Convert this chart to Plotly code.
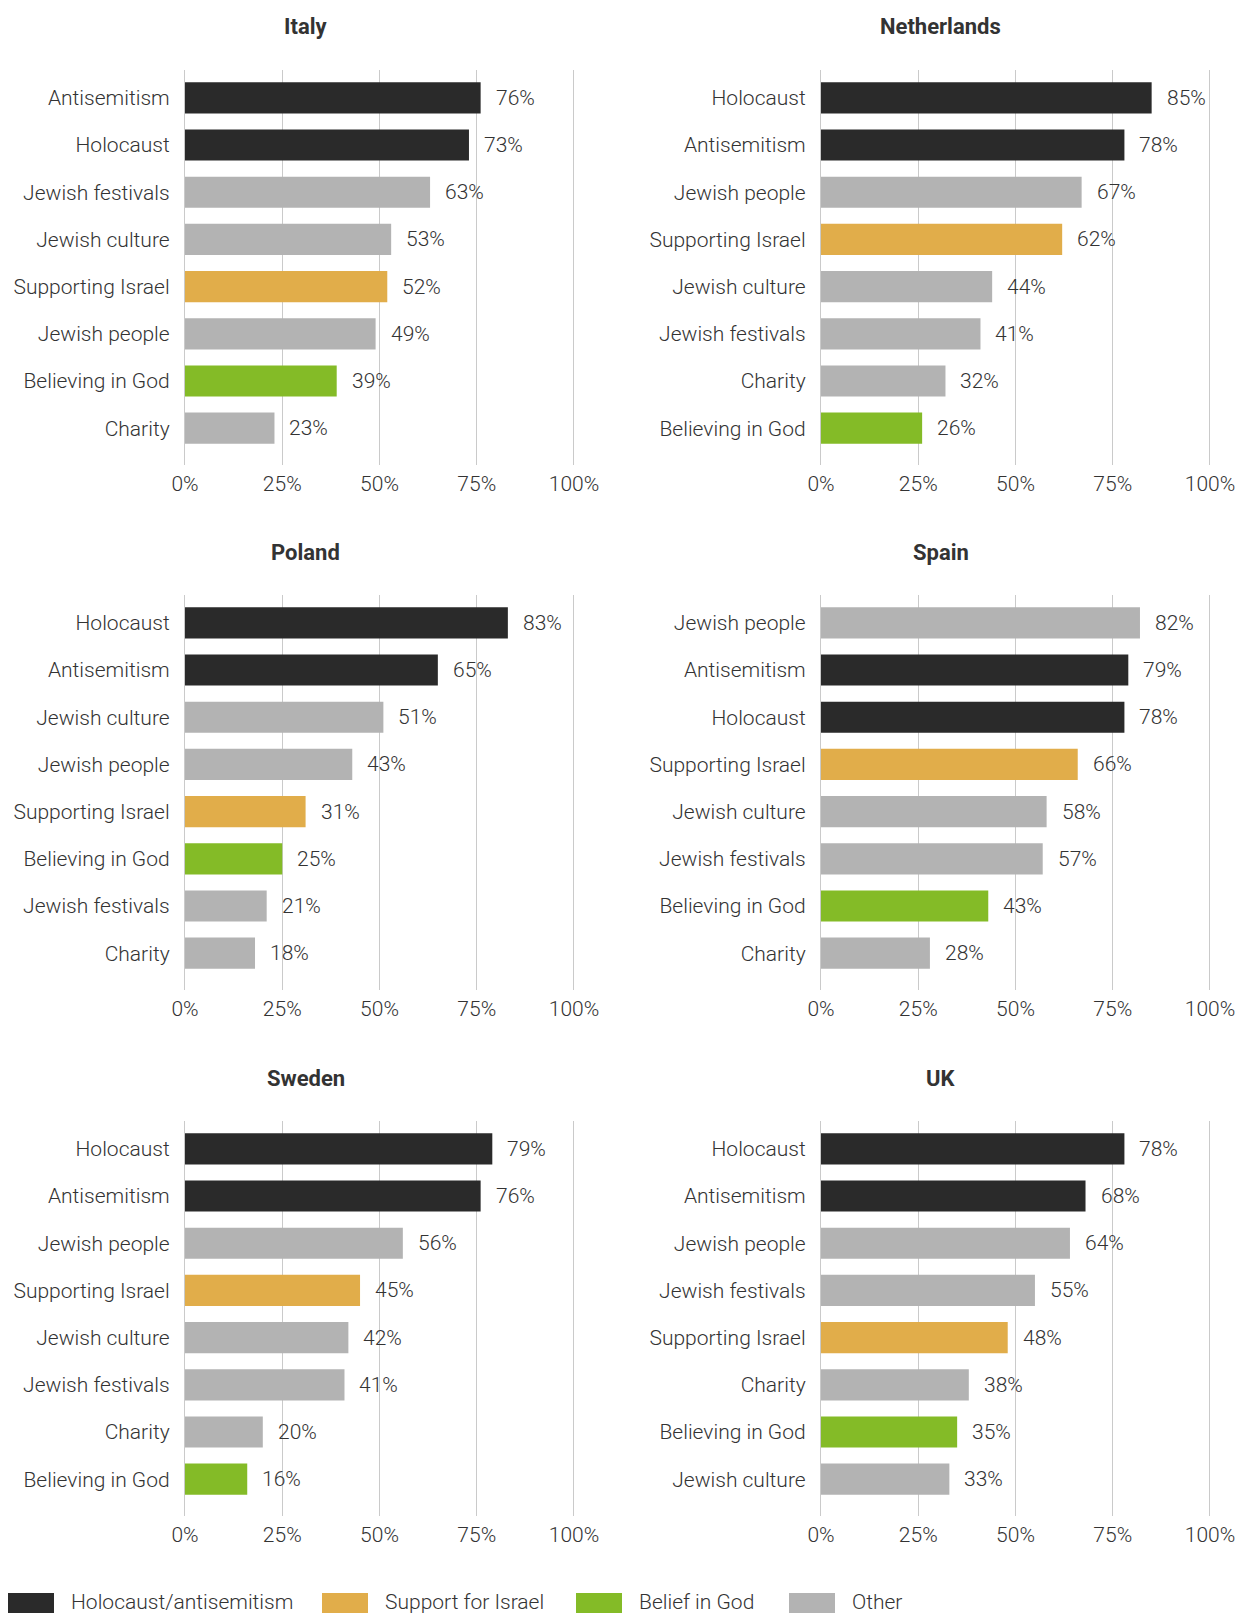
import plotly.graph_objects as go
from plotly.subplots import make_subplots

countries = ["Italy", "Netherlands", "Poland", "Spain", "Sweden", "UK"]

italy_cats = ["Antisemitism", "Holocaust", "Jewish festivals", "Jewish culture",
              "Supporting Israel", "Jewish people", "Believing in God", "Charity"]
italy_vals = [76, 73, 63, 53, 52, 49, 39, 23]

netherlands_cats = ["Holocaust", "Antisemitism", "Jewish people", "Supporting Israel",
                    "Jewish culture", "Jewish festivals", "Charity", "Believing in God"]
netherlands_vals = [85, 78, 67, 62, 44, 41, 32, 26]

poland_cats = ["Holocaust", "Antisemitism", "Jewish culture", "Jewish people",
               "Supporting Israel", "Believing in God", "Jewish festivals", "Charity"]
poland_vals = [83, 65, 51, 43, 31, 25, 21, 18]

spain_cats = ["Jewish people", "Antisemitism", "Holocaust", "Supporting Israel",
              "Jewish culture", "Jewish festivals", "Believing in God", "Charity"]
spain_vals = [82, 79, 78, 66, 58, 57, 43, 28]

sweden_cats = ["Holocaust", "Antisemitism", "Jewish people", "Supporting Israel",
               "Jewish culture", "Jewish festivals", "Charity", "Believing in God"]
sweden_vals = [79, 76, 56, 45, 42, 41, 20, 16]

uk_cats = ["Holocaust", "Antisemitism", "Jewish people", "Jewish festivals",
           "Supporting Israel", "Charity", "Believing in God", "Jewish culture"]
uk_vals = [78, 68, 64, 55, 48, 38, 35, 33]

x_ticks = [0, 25, 50, 75, 100]
x_tick_labels = ["0%", "25%", "50%", "75%", "100%"]
legend_labels = ["Holocaust/antisemitism", "Support for Israel", "Belief in God", "Other"]

COL_DARK = "#2a2a2a"
COL_GOLD = "#e1ad4a"
COL_GREEN = "#84bb27"
COL_GRAY = "#b3b3b3"
legend_colors = [COL_DARK, COL_GOLD, COL_GREEN, COL_GRAY]

def color_for(cat):
    if cat in ("Holocaust", "Antisemitism"):
        return COL_DARK
    if cat == "Supporting Israel":
        return COL_GOLD
    if cat == "Believing in God":
        return COL_GREEN
    return COL_GRAY

data = [(italy_cats, italy_vals), (netherlands_cats, netherlands_vals),
        (poland_cats, poland_vals), (spain_cats, spain_vals),
        (sweden_cats, sweden_vals), (uk_cats, uk_vals)]

W, H = 1240, 1613
FONT = "Roboto"
TXT = "#333333"
FS = 21
LIGHT = dict(family=FONT, size=FS, color=TXT, weight=300)

fig = make_subplots(rows=3, cols=2, horizontal_spacing=0.1, vertical_spacing=0.1)

# pixel positions of 0% and 100% for each column; pad range slightly so edge gridlines draw
X_PAD = 0.6
col_px = [(185, 574), (821, 1210)]
x_doms = []
for p0, p1 in col_px:
    s = (p1 - p0) / 100.0
    x_doms.append(((p0 - X_PAD * s) / W, (p1 + X_PAD * s) / W))
row_tops = [70, 595, 1121]
PLOT_H = 395
title_x = [305.6 / W, 940.6 / W]
title_y = [27, 553, 1078]

annotations = []
for i, (cats, vals) in enumerate(data):
    r, c = i // 2, i % 2
    fig.add_trace(go.Bar(
        x=vals, y=cats, orientation="h",
        marker=dict(color=[color_for(k) for k in cats], line=dict(width=0)),
        width=0.66, showlegend=False, hoverinfo="x+y"),
        row=r + 1, col=c + 1)
    axn = "" if i == 0 else str(i + 1)
    top = row_tops[r]
    fig.update_layout(**{
        f"xaxis{axn}": dict(domain=list(x_doms[c]), range=[-X_PAD, 100 + X_PAD],
                            tickmode="array", tickvals=x_ticks, ticktext=x_tick_labels,
                            automargin=False, showgrid=True, gridcolor="#cacaca",
                            gridwidth=1, zeroline=False, showline=False, ticks="",
                            ticklabelstandoff=4, tickfont=LIGHT),
        f"yaxis{axn}": dict(domain=[1 - (top + PLOT_H) / H, 1 - top / H],
                            categoryorder="array", categoryarray=cats, automargin=False,
                            range=[7.78, -0.59], showgrid=False, zeroline=False,
                            showline=False, ticks="", ticklabelstandoff=12,
                            tickfont=LIGHT),
    })
    xref = f"x{axn}"
    yref = f"y{axn}"
    for k, v in zip(cats, vals):
        annotations.append(dict(x=v, y=k, xref=xref, yref=yref, text=f"{v}%",
                                showarrow=False, xanchor="left", xshift=13,
                                font=LIGHT))
    annotations.append(dict(x=title_x[c], y=1 - title_y[r] / H, xref="paper", yref="paper",
                            text=f"<b>{countries[i]}</b>", showarrow=False,
                            xanchor="center", yanchor="middle",
                            font=dict(family=FONT, size=22, color=TXT)))

# legend drawn as layout shapes + text
leg_sq_x = [8, 322, 576, 789]
leg_txt_x = [69, 383, 637, 850]
shapes = []
for lx, tx, lab, col in zip(leg_sq_x, leg_txt_x, legend_labels, legend_colors):
    shapes.append(dict(type="rect", xref="paper", yref="paper",
                       x0=lx / W, x1=(lx + 46) / W, y0=1 - 1614 / H, y1=1 - 1593 / H,
                       fillcolor=col, line=dict(width=0)))
    annotations.append(dict(x=tx / W, y=1 - 1602 / H, xref="paper", yref="paper",
                            text=lab, showarrow=False, xanchor="left", yanchor="middle",
                            font=LIGHT))

fig.update_layout(width=W, height=H, margin=dict(l=0, r=0, t=0, b=0, autoexpand=False),
                  paper_bgcolor="white", plot_bgcolor="white",
                  annotations=annotations, shapes=shapes, bargap=0.34,
                  font=dict(family=FONT, size=FS, color=TXT))

fig.write_html("out.html", config={"displayModeBar": False},
               post_script="document.body.style.margin='0';document.body.style.overflow='hidden';")
